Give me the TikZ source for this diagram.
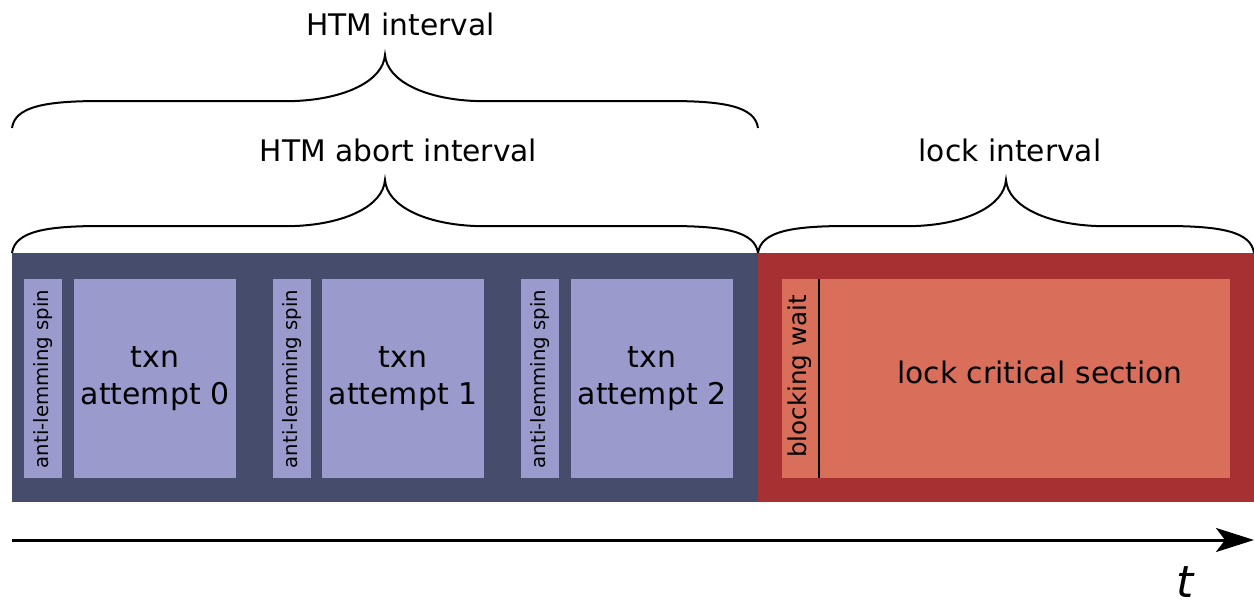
\documentclass[tikz,border=0pt]{standalone}
\usepackage{fontspec}
\setmainfont{DejaVu Sans}
\usetikzlibrary{arrows.meta}
\definecolor{htmdark}{RGB}{70,76,107}
\definecolor{htmlight}{RGB}{154,154,204}
\definecolor{lockdark}{RGB}{167,48,50}
\definecolor{locklight}{RGB}{217,111,91}
\newcommand{\cbrace}[4]{% #1 x1, #2 x2, #3 y bottom, #4 name prefix
  \draw[bracestyle] (#1,#3) .. controls ({#1+3},{#3-22}) and ({#1+35},{#3-27}) .. ({#1+90},{#3-27})
    -- ({(#1+#2)/2-90},{#3-27}) .. controls ({(#1+#2)/2-40},{#3-29}) and ({(#1+#2)/2-2},{#3-47}) .. ({(#1+#2)/2},{#3-73})
    .. controls ({(#1+#2)/2+2},{#3-47}) and ({(#1+#2)/2+40},{#3-29}) .. ({(#1+#2)/2+90},{#3-27})
    -- ({#2-90},{#3-27}) .. controls ({#2-35},{#3-27}) and ({#2-3},{#3-22}) .. (#2,#3);
  \coordinate (#4) at ({(#1+#2)/2},{#3-73});
}
\begin{document}
\begin{tikzpicture}[x=1pt,y=-1pt,
  bracestyle/.style={line width=2pt},
  outerbox/.style={rectangle,inner sep=0,outer sep=0,minimum height=249pt},
  innerbox/.style={rectangle,inner sep=0,outer sep=0,minimum height=199pt},
  spinbox/.style={innerbox,fill=htmlight,minimum width=38pt},
  txnbox/.style={innerbox,fill=htmlight,minimum width=162pt,align=center,font=\fontsize{29.9}{37}\selectfont},
  spintext/.style={rotate=90,inner sep=0,font=\fontsize{19.7}{22}\selectfont},
  biglabel/.style={inner sep=0,font=\fontsize{29.7}{36}\selectfont},
  timearrow/.style={line width=3pt,-{Stealth[length=38pt,width=24pt,inset=9pt]}}
]
\useasboundingbox (0,0) rectangle (1254,605);
% outer regions
\node[outerbox,fill=htmdark,minimum width=746pt] (htm) at (385,377.5) {};
\node[outerbox,fill=lockdark,minimum width=496pt] (lock) at (1006,377.5) {};
% HTM attempts
\node[spinbox] (spin0) at (43,378.5) {};
\node[spintext] (spin0t) at (43,379) {anti-lemming spin};
\node[txnbox] (txn0) at (155,378.5) {txn\\attempt 0};
\node[spinbox] (spin1) at (292,378.5) {};
\node[spintext] (spin1t) at (292,379) {anti-lemming spin};
\node[txnbox] (txn1) at (403,378.5) {txn\\attempt 1};
\node[spinbox] (spin2) at (540,378.5) {};
\node[spintext] (spin2t) at (540,379) {anti-lemming spin};
\node[txnbox] (txn2) at (652,378.5) {txn\\attempt 2};
% lock section
\node[innerbox,fill=locklight,minimum width=448pt] (crit) at (1006,378.5) {};
\coordinate (sepTop) at (819,279);
\coordinate (sepBot) at (819,478);
\draw[line width=2pt] (sepTop) -- (sepBot);
\node[rotate=90,inner sep=0,font=\fontsize{24.6}{28}\selectfont] (bw) at (800,376.5) {blocking wait};
\node[biglabel] (critt) at (1040,372) {lock critical section};
% braces
\cbrace{12}{758}{128}{tipA}
\cbrace{12}{758}{253}{tipB}
\cbrace{758}{1254}{253}{tipC}
\node[biglabel] (lblA) at (400.5,24) {HTM interval};
\node[biglabel] (lblB) at (398.5,150) {HTM abort interval};
\node[biglabel] (lblC) at (1010,150) {lock interval};
% time axis
\coordinate (t0) at (12,540);
\coordinate (t1) at (1254,540);
\draw[timearrow] (t0) -- (t1);
\node[inner sep=0,font=\fontsize{44}{44}\selectfont\itshape] (tlbl) at (1185,582) {t};
\end{tikzpicture}
\end{document}
